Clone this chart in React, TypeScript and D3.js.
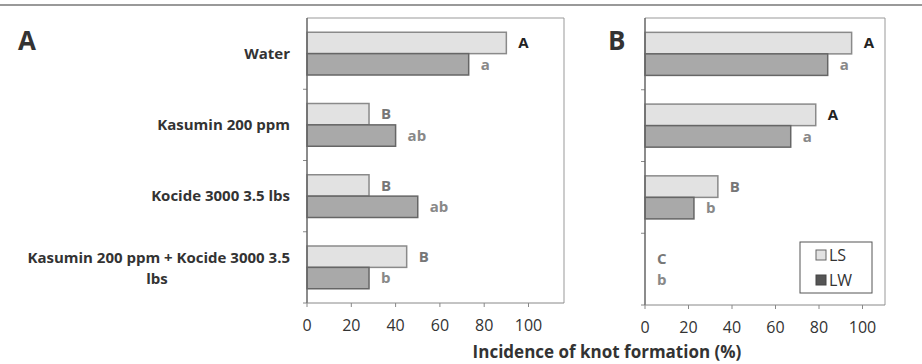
import * as d3 from "d3";

const categories = ["Water", "Kasumin 200 ppm", "Kocide 3000 3.5 lbs", "Kasumin 200 ppm + Kocide 3000 3.5 lbs"];
const series = ["LS", "LW"];

const lsA = [90, 28, 28, 45];
const lwA = [73, 40, 50, 28];
const lsLettersA = ["A", "B", "B", "B"];
const lwLettersA = ["a", "ab", "ab", "b"];

const lsB = [95, 78.5, 33.5, 0];
const lwB = [84, 67, 22.5, 0];
const lsLettersB = ["A", "A", "B", "C"];
const lwLettersB = ["a", "a", "b", "b"];

const ticks = [0, 20, 40, 60, 80, 100];

const FONT = "'Open Sans', Lato, sans-serif";

type PanelProps = {
  left: number;
  top: number;
  bottom: number;
  unit: number; // px per 100%
  boxWidth: number;
  ls: number[];
  lw: number[];
  lsLetters: string[];
  lwLetters: string[];
};

const Panel = ({ left, top, bottom, unit, boxWidth, ls, lw, lsLetters, lwLetters }: PanelProps) => {
  const x = d3.scaleLinear().domain([0, 100]).range([left, left + unit]);
  const y = d3.scaleBand<string>().domain(categories).range([top, bottom]).padding(0);
  const bw = y.bandwidth();
  const inner = d3.scaleBand<string>().domain(series).range([bw * 0.2, bw * 0.8]).padding(0);
  const right = left + boxWidth;

  return (
    <g>
      <line x1={left} x2={right} y1={top} y2={top} stroke="#999" />
      <line x1={right} x2={right} y1={top} y2={bottom} stroke="#999" />
      {categories.map((c, i) => {
        const y0 = y(c)!;
        const yLS = y0 + inner("LS")!;
        const yLW = y0 + inner("LW")!;
        const h = inner.bandwidth();
        return (
          <g key={c}>
            {ls[i] > 0 && (
              <rect x={x(0)} y={yLS} width={x(ls[i]) - x(0)} height={h} fill="#e2e2e2" stroke="#8a8a8a" strokeWidth={1.5} />
            )}
            {lw[i] > 0 && (
              <rect x={x(0)} y={yLW} width={x(lw[i]) - x(0)} height={h} fill="#a9a9a9" stroke="#666" strokeWidth={1.5} />
            )}
            <text x={x(ls[i]) + 12} y={yLS + h / 2} dy="0.35em" fontFamily={FONT} fontWeight="bold" fontSize={15}
              fill={lsLetters[i] === "A" ? "#222" : "#777"}>{lsLetters[i]}</text>
            <text x={x(lw[i]) + 12} y={yLW + h / 2} dy="0.35em" fontFamily={FONT} fontWeight="bold" fontSize={15}
              fill="#888">{lwLetters[i]}</text>
            <line x1={left - 4} x2={left} y1={y0 + bw} y2={y0 + bw} stroke="#888" />
          </g>
        );
      })}
      <line x1={left} x2={left} y1={top} y2={bottom} stroke="#666" strokeWidth={1.5} />
      <line x1={left} x2={right} y1={bottom} y2={bottom} stroke="#888" />
      {ticks.map((t) => (
        <g key={t}>
          <line x1={x(t)} x2={x(t)} y1={bottom} y2={bottom + 4} stroke="#888" />
          <text x={x(t)} y={bottom + 28} textAnchor="middle" fontFamily={FONT} fontSize={16} fill="#333">{t}</text>
        </g>
      ))}
    </g>
  );
};

export default function App() {
  const yA = d3.scaleBand<string>().domain(categories).range([18, 303]);
  return (
    <svg width={922} height={364} style={{ position: "absolute", left: 0, top: 0, background: "#fff" }}>
      <line x1={0} x2={922} y1={5} y2={5} stroke="#777" strokeWidth={1.5} />
      <text x={18} y={50} fontFamily={FONT} fontWeight="bold" fontSize={26} fill="#333">A</text>
      <text x={608} y={50} fontFamily={FONT} fontWeight="bold" fontSize={26} fill="#333">B</text>

      {categories.slice(0, 3).map((c) => (
        <text key={c} x={290} y={yA(c)! + yA.bandwidth() / 2} dy="0.35em" textAnchor="end"
          fontFamily={FONT} fontWeight="bold" fontSize={15} fill="#333">{c}</text>
      ))}
      <text x={290} y={yA(categories[3])! + yA.bandwidth() / 2 - 10} dy="0.35em" textAnchor="end"
        fontFamily={FONT} fontWeight="bold" fontSize={15} fill="#333">Kasumin 200 ppm + Kocide 3000 3.5</text>
      <text x={157} y={yA(categories[3])! + yA.bandwidth() / 2 + 11} dy="0.35em" textAnchor="middle"
        fontFamily={FONT} fontWeight="bold" fontSize={15} fill="#333">lbs</text>

      <Panel left={307} top={18} bottom={303} unit={221.5} boxWidth={257}
        ls={lsA} lw={lwA} lsLetters={lsLettersA} lwLetters={lwLettersA} />
      <Panel left={645} top={18} bottom={305} unit={217.5} boxWidth={240}
        ls={lsB} lw={lwB} lsLetters={lsLettersB} lwLetters={lwLettersB} />

      <g>
        <rect x={800} y={242} width={72} height={51} fill="#fff" stroke="#555" />
        <rect x={816} y={250} width={10} height={10} fill="#e2e2e2" stroke="#666" />
        <text x={829} y={255} dy="0.35em" fontFamily={FONT} fontSize={16} fill="#333">LS</text>
        <rect x={816} y={275} width={10} height={10} fill="#555" stroke="#444" />
        <text x={829} y={280} dy="0.35em" fontFamily={FONT} fontSize={16} fill="#333">LW</text>
      </g>

      <text x={607} y={358} textAnchor="middle" fontFamily={FONT} fontWeight="bold" fontSize={17} fill="#333">
        Incidence of knot formation (%)
      </text>
    </svg>
  );
}
